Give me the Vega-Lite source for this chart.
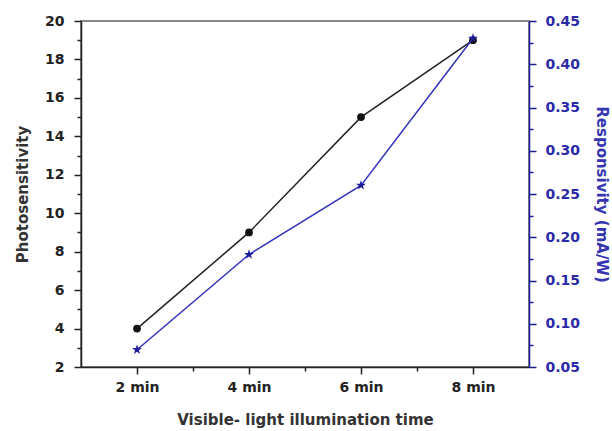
{
  "$schema": "https://vega.github.io/schema/vega-lite/v6.json",
  "width": 448,
  "height": 346,
  "autosize": {"type": "none"},
  "padding": {"left": 81, "top": 21, "right": 83, "bottom": 64},
  "background": "white",
  "config": {
    "view": {"stroke": "#888888", "strokeWidth": 2},
    "axis": {"labelFont": "DejaVu Sans", "titleFont": "DejaVu Sans", "labelFontWeight": "bold", "titleFontWeight": "bold", "labelFontSize": 14, "titleFontSize": 15, "grid": false, "domainWidth": 1.5, "tickWidth": 1.5}
  },
  "data": {"values": [
    {"t": 2, "photo": 4, "resp": 0.07},
    {"t": 4, "photo": 9, "resp": 0.18},
    {"t": 6, "photo": 15, "resp": 0.26},
    {"t": 8, "photo": 19, "resp": 0.43}
  ]},
  "encoding": {
    "x": {"field": "t", "type": "quantitative", "scale": {"domain": [1, 9], "nice": false, "zero": false},
      "axis": {"values": [2, 3, 4, 5, 6, 7, 8], "labelExpr": "datum.value % 2 == 0 ? datum.value + ' min' : ''", "title": "Visible- light illumination time", "domainColor": "#222", "tickColor": "#222", "labelColor": "#222", "titleColor": "#333", "tickSize": {"condition": {"test": "datum.value % 2 == 1", "value": 4}, "value": 7}, "labelPadding": 6, "titlePadding": 18, "labelFlush": false}}
  },
  "layer": [
    {
      "mark": {"type": "line", "color": "#222222", "strokeWidth": 1.5},
      "encoding": {"y": {"field": "photo", "type": "quantitative", "scale": {"domain": [2, 20], "nice": false, "zero": false},
        "axis": {"orient": "left", "values": [2, 3, 4, 5, 6, 7, 8, 9, 10, 11, 12, 13, 14, 15, 16, 17, 18, 19, 20], "labelExpr": "datum.value % 2 == 0 ? datum.label : ''", "title": "Photosensitivity", "domainColor": "#222", "tickColor": "#222", "labelColor": "#222", "titleColor": "#333", "tickSize": {"condition": {"test": "datum.value % 2 == 1", "value": 4}, "value": 7}, "labelPadding": 10, "titlePadding": 14, "labelFlush": false}}}
    },
    {
      "mark": {"type": "point", "filled": true, "color": "#111111", "size": 60, "opacity": 1},
      "encoding": {"y": {"field": "photo", "type": "quantitative", "scale": {"domain": [2, 20], "nice": false, "zero": false}, "axis": null}}
    },
    {
      "mark": {"type": "line", "color": "#3333bb", "strokeWidth": 1.5},
      "encoding": {"y": {"field": "resp", "type": "quantitative", "scale": {"domain": [0.05, 0.45], "nice": false, "zero": false},
        "axis": {"orient": "right", "values": [0.05, 0.075, 0.1, 0.125, 0.15, 0.175, 0.2, 0.225, 0.25, 0.275, 0.3, 0.325, 0.35, 0.375, 0.4, 0.425, 0.45], "format": ".2f", "labelExpr": "round(datum.value * 1000) % 50 == 0 ? datum.label : ''", "title": "Responsivity (mA/W)", "titleAngle": 90, "domainColor": "#1c1c99", "tickColor": "#1c1c99", "labelColor": "#2a2aa8", "titleColor": "#3535b0", "tickSize": {"condition": {"test": "round(datum.value * 1000) % 50 != 0", "value": 4}, "value": 7}, "labelPadding": 9, "titlePadding": 14, "labelFlush": false}}}
    },
    {
      "mark": {"type": "point", "filled": true, "color": "#1c1c99", "size": 110, "opacity": 1, "shape": "M0,-1L0.2245,-0.309L0.951,-0.309L0.363,0.118L0.588,0.809L0,0.382L-0.588,0.809L-0.363,0.118L-0.951,-0.309L-0.2245,-0.309Z"},
      "encoding": {"y": {"field": "resp", "type": "quantitative", "scale": {"domain": [0.05, 0.45], "nice": false, "zero": false}, "axis": null}}
    }
  ],
  "resolve": {"scale": {"y": "independent"}, "axis": {"y": "independent"}}
}
